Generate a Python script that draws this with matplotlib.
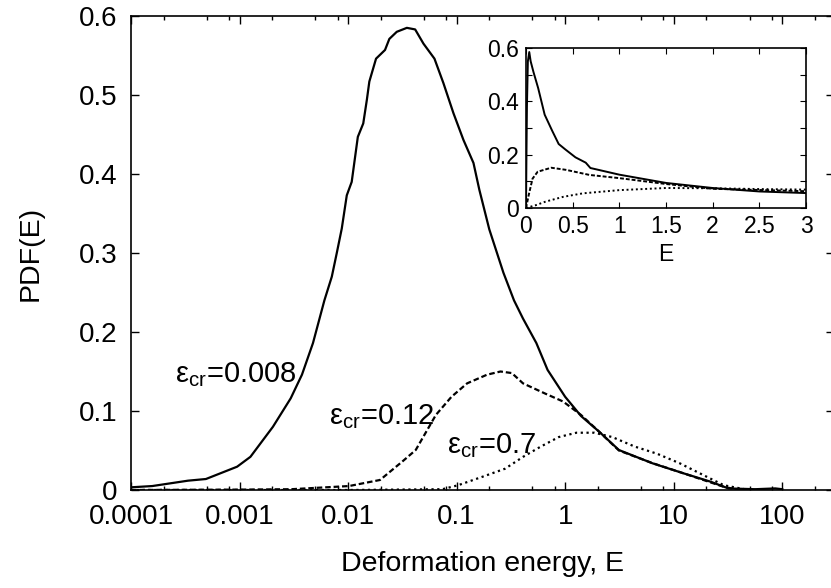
import matplotlib
matplotlib.use("Agg")
import matplotlib.pyplot as plt
from matplotlib.ticker import LogLocator, FixedLocator, NullFormatter, FixedFormatter

plt.rcParams['font.family'] = ['Liberation Sans', 'DejaVu Sans']
plt.rcParams['mathtext.fontset'] = 'custom'
plt.rcParams['mathtext.rm'] = 'Liberation Sans'
plt.rcParams['mathtext.it'] = 'Liberation Sans:italic'

# ---- main panel data (log-x) ----
E_a = [1e-4, 1.57e-4, 3.35e-4, 4.9e-4, 9.5e-4, 1.26e-3, 2.03e-3, 2.96e-3, 3.76e-3, 4.75e-3,
       6.05e-3, 7.08e-3, 7.87e-3, 8.75e-3, 9.73e-3, 0.0108, 0.0123, 0.0138, 0.0149, 0.0157,
       0.0181, 0.0219, 0.024, 0.0281, 0.0348, 0.0415, 0.0495, 0.0625, 0.0756, 0.0935, 0.1157,
       0.143, 0.162, 0.2, 0.27, 0.338, 0.409, 0.543, 0.689, 1.0, 1.40, 2.05, 3.13, 6.38, 12.4,
       21.9, 31.9, 56.4, 86.4, 100]
P_a = [0.0034, 0.005, 0.0118, 0.0139, 0.0295, 0.042, 0.080, 0.116, 0.146, 0.186,
       0.24, 0.27, 0.30, 0.331, 0.373, 0.39, 0.447, 0.464, 0.494, 0.517,
       0.546, 0.557, 0.571, 0.580, 0.585, 0.583, 0.565, 0.546, 0.515, 0.477, 0.443,
       0.414, 0.38, 0.33, 0.275, 0.24, 0.217, 0.186, 0.152, 0.118, 0.0937, 0.074, 0.0506, 0.0338, 0.021,
       0.0105, 0.002, 0.001, 0.002, 0.001]

E_b = [1e-4, 1e-3, 3e-3, 0.0102, 0.0197, 0.0316, 0.042, 0.0644, 0.0897, 0.125, 0.191, 0.254,
       0.323, 0.409, 0.656, 0.958, 1.40, 2.05, 3.13, 6.38, 12.4, 29.0, 37.0, 50.0]
P_b = [0.0, 0.0005, 0.001, 0.005, 0.0127, 0.036, 0.0506, 0.095, 0.118, 0.135, 0.146, 0.150,
       0.148, 0.135, 0.122, 0.112, 0.095, 0.074, 0.050, 0.034, 0.021, 0.004, 0.001, 0.0]

E_c = [1e-4, 0.01, 0.074, 0.103, 0.175, 0.28, 0.41, 0.597, 0.873, 1.27, 1.86, 2.72, 4.37, 7.0,
       11.3, 20.0, 29.0, 45.0, 60.0]
P_c = [0.0, 0.0, 0.001, 0.006, 0.017, 0.027, 0.042, 0.055, 0.067, 0.0725, 0.0725, 0.067, 0.055,
       0.046, 0.034, 0.017, 0.006, 0.001, 0.0]

labels = ['ε$_{\\mathregular{cr}}$=0.008', 'ε$_{\\mathregular{cr}}$=0.12', 'ε$_{\\mathregular{cr}}$=0.7']
label_pos = [(2.55e-4, 0.137), (6.64e-3, 0.0835), (0.0817, 0.047)]

xticks_main = [1e-4, 1e-3, 1e-2, 1e-1, 1, 10, 100]
xticklabels_main = ['0.0001', '0.001', '0.01', '0.1', '1', '10', '100']
yticks_main = [0, 0.1, 0.2, 0.3, 0.4, 0.5, 0.6]
yticklabels_main = ['0', '0.1', '0.2', '0.3', '0.4', '0.5', '0.6']

# ---- inset data (linear x) ----
Ei_a = [0.0, 0.005, 0.01, 0.02, 0.035, 0.05, 0.08, 0.13, 0.2, 0.28, 0.35, 0.42, 0.53, 0.64,
        0.69, 1.0, 1.5, 2.0, 2.5, 3.0]
Pi_a = [0.0, 0.2, 0.38, 0.55, 0.585, 0.55, 0.51, 0.45, 0.35, 0.29, 0.24, 0.22, 0.19, 0.17,
        0.15, 0.125, 0.094, 0.075, 0.062, 0.056]
Ei_b = [0.0, 0.03, 0.07, 0.125, 0.27, 0.43, 0.68, 1.0, 1.5, 2.0, 3.0]
Pi_b = [0.0, 0.05, 0.11, 0.136, 0.151, 0.143, 0.124, 0.112, 0.09, 0.072, 0.063]
Ei_c = [0.0, 0.1, 0.21, 0.4, 0.61, 1.0, 1.5, 2.0, 2.5, 3.0]
Pi_c = [0.0, 0.01, 0.024, 0.042, 0.055, 0.067, 0.075, 0.074, 0.071, 0.069]

xticks_in = [0, 0.5, 1, 1.5, 2, 2.5, 3]
xticklabels_in = ['0', '0.5', '1', '1.5', '2', '2.5', '3']
yticks_in = [0, 0.1, 0.2, 0.3, 0.4, 0.5, 0.6]
yticklabels_in = ['0', '', '0.2', '', '0.4', '', '0.6']

fig = plt.figure(figsize=(8.31, 5.88), dpi=100)
W, H = 831.0, 588.0
ax = fig.add_axes([131 / W, (H - 490) / H, 703 / W, 474 / H])

ax.plot(E_a, P_a, color='black', lw=1.6, ls='-')
ax.plot(E_b, P_b, color='black', lw=1.6, ls=(0, (2.5, 1.3)))
ax.plot(E_c, P_c, color='black', lw=1.6, ls=(0, (1, 1.6)))

ax.set_xscale('log')
ax.set_xlim(1e-4, 300)
ax.set_ylim(0, 0.6)
ax.xaxis.set_major_locator(FixedLocator(xticks_main))
ax.xaxis.set_major_formatter(FixedFormatter(xticklabels_main))
ax.xaxis.set_minor_locator(LogLocator(base=10, subs=[2, 5, 8], numticks=20))
ax.xaxis.set_minor_formatter(NullFormatter())
ax.set_yticks(yticks_main)
ax.set_yticklabels(yticklabels_main)
ax.tick_params(which='both', direction='in', top=True, right=True, labelsize=20, width=1)
ax.tick_params(axis='x', which='both', pad=10)
ax.tick_params(axis='y', which='both', pad=10)
ax.tick_params(which='major', length=6)
ax.tick_params(which='minor', length=3)
for s in ax.spines.values():
    s.set_linewidth(1.2)
ax.set_xlabel('Deformation energy, E', fontsize=20.5)
ax.set_ylabel('PDF(E)', fontsize=20.5)
ax.xaxis.set_label_coords(0.5, -0.128)
ax.yaxis.set_label_coords(-0.125, 0.5)

for lab, (lx, ly) in zip(labels, label_pos):
    ax.text(lx, ly, lab, fontsize=21, ha='left', va='baseline')

ins = fig.add_axes([526 / W, (H - 208) / H, 280 / W, 160 / H])
ins.plot(Ei_a, Pi_a, color='black', lw=1.4, ls='-')
ins.plot(Ei_b, Pi_b, color='black', lw=1.4, ls=(0, (2, 1)))
ins.plot(Ei_c, Pi_c, color='black', lw=1.4, ls=(0, (1, 1.4)))
ins.set_xlim(0, 3)
ins.set_ylim(0, 0.6)
ins.set_xticks(xticks_in)
ins.set_xticklabels(xticklabels_in)
ins.set_yticks(yticks_in)
ins.set_yticklabels(yticklabels_in)
ins.tick_params(which='both', direction='in', top=True, right=True, labelsize=16.5, pad=5,
                length=4, width=0.8)
for s in ins.spines.values():
    s.set_linewidth(1.2)
ins.set_xlabel('E', fontsize=16.5, labelpad=4)

fig.savefig('out.png', dpi=100)
